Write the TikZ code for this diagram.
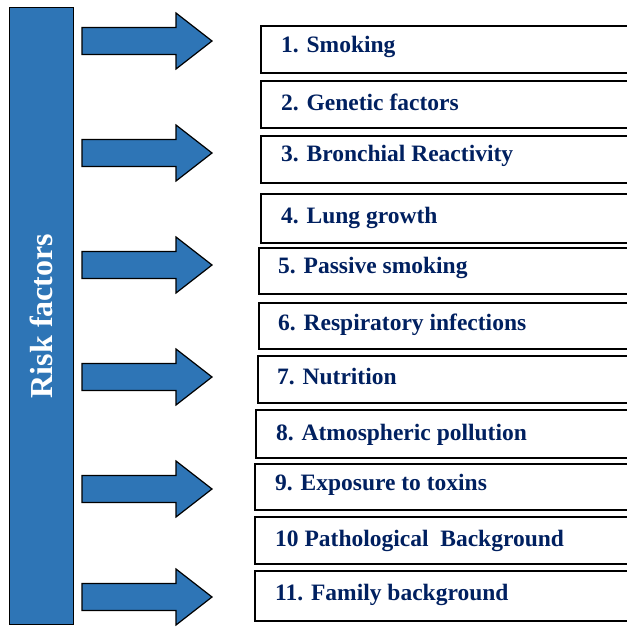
\documentclass[tikz,border=0pt]{standalone}
\usepackage{fontspec}
\setmainfont{Liberation Serif}
\definecolor{fillblue}{RGB}{46,117,182}
\definecolor{textnavy}{RGB}{0,32,96}
\begin{document}
\begin{tikzpicture}[x=1pt,y=-1pt,
  factorbox/.style={draw=black, line width=1.6pt, fill=white, minimum width=420pt,
    inner sep=0pt, anchor=north west},
  factortext/.style={text=textnavy, font=\fontsize{23.5}{28}\selectfont\bfseries,
    inner sep=0pt, anchor=base west},
  blockarrow/.style={draw=black, line width=1.2pt, fill=fillblue, line join=miter},
  sidebar/.style={draw=black, line width=1.2pt, fill=fillblue, inner sep=0pt,
    minimum width=64pt, minimum height=617pt, anchor=north west}]
\useasboundingbox (0,0) rectangle (627,627);
\clip (0,0) rectangle (627,627);

% vertical title bar
\node[sidebar] (bar) at (9,7) {};
\node[rotate=90, anchor=base, text=white, inner sep=0pt,
  font=\fontsize{32}{36}\selectfont\bfseries] (title) at (52,316) {Risk factors};

% block arrows
\foreach \y in {41,153,265,377,489,597}
  \draw[blockarrow] (82,\y-13.5) -- (176,\y-13.5) -- (176,\y-28) -- (212,\y)
    -- (176,\y+28) -- (176,\y+13.5) -- (82,\y+13.5) -- cycle;

% factor boxes: index / left / top / height / text x / baseline / label
\foreach \i/\lx/\ty/\h/\tx/\bl/\lab in {
  1/260/25/47/281/52/{1. Smoking},
  2/260/80/47/281/110/{2. Genetic factors},
  3/260/135/47/281/161/{3. Bronchial Reactivity},
  4/260/193/49/281/223/{4. Lung growth},
  5/258/247/46/278/273/{5. Passive smoking},
  6/258/302/46/278/330/{6. Respiratory infections},
  7/257/355/47/277/384/{7. Nutrition},
  8/255/409/48/276/440/{8. Atmospheric pollution},
  9/254/463/46/275/490/{9. Exposure to toxins},
  10/254/516/47/275/546/{10 Pathological\ \ Background},
  11/254/570/50/275/600/{11. Family background}}
{
  \node[factorbox, minimum height=\h pt] (box\i) at (\lx,\ty) {};
  \node[factortext] (lab\i) at (\tx,\bl) {\lab};
}
\end{tikzpicture}
\end{document}
